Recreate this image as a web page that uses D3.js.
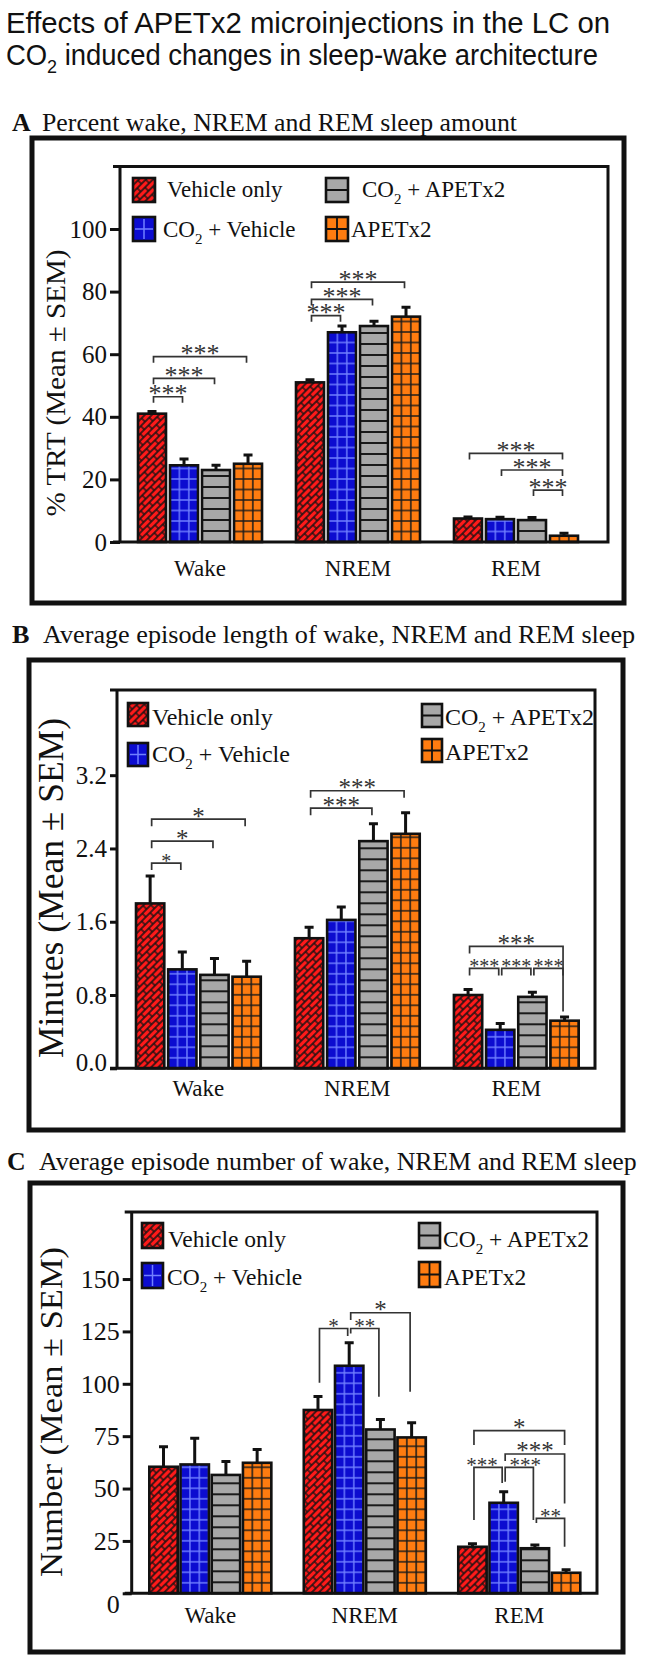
<!DOCTYPE html>
<html><head><meta charset="utf-8">
<script src="https://cdn.jsdelivr.net/npm/d3@7"></script>
<style>body{margin:0;background:#fff}svg{display:block}</style>
</head><body>
<svg id="c" width="645" height="1658"></svg>
<script>
// ---------------- DATA ----------------
const categories = ["Wake", "NREM", "REM"];
const seriesNames = ["Vehicle only", "CO\u2082 + Vehicle", "CO\u2082 + APETx2", "APETx2"];

// Panel A: % TRT
const pctMean = [[41, 24.5, 23, 25], [51, 67, 69, 72], [7.5, 7.3, 7, 2]];
const pctSem  = [[0.7, 2, 1.5, 2.8], [0.8, 2, 1.5, 3], [0.5, 0.6, 0.8, 0.8]];
const pctTicks = [0, 20, 40, 60, 80, 100];

// Panel B: episode length (minutes)
const lenMean = [[1.8, 1.08, 1.02, 1.0], [1.42, 1.62, 2.48, 2.56], [0.8, 0.42, 0.78, 0.52]];
const lenSem  = [[0.3, 0.19, 0.18, 0.17], [0.12, 0.14, 0.19, 0.23], [0.06, 0.07, 0.05, 0.04]];
const lenTicks = [0, 0.8, 1.6, 2.4, 3.2];

// Panel C: episode number
const numMean = [[60.4, 61.5, 56.5, 62.3], [87.5, 108.6, 78.2, 74.4], [22.2, 43.2, 21.5, 9.8]];
const numSem  = [[9.5, 12.5, 6.4, 6.3], [6.4, 11, 4.8, 7], [1.5, 5.3, 1.5, 1.5]];
const numTicks = [0, 25, 50, 75, 100, 125, 150];

// significance brackets: g=category, a/b=series, y=level, la/lb=leg end values, dx=label shift
const bracketsA = [
  {g:0,a:0,b:1,y:46.4,t:"***"},{g:0,a:0,b:2,y:52.3,t:"***"},{g:0,a:0,b:3,y:59.2,t:"***"},
  {g:1,a:0,b:1,y:72.3,t:"***"},{g:1,a:0,b:2,y:77.5,t:"***"},{g:1,a:0,b:3,y:83.0,t:"***"},
  {g:2,a:0,b:3,y:28.3,t:"***"},{g:2,a:1,b:3,y:23.0,t:"***"},{g:2,a:2,b:3,y:16.6,t:"***"}
];
const bracketsB = [
  {g:0,a:0,b:1,y:2.24,t:"*"},{g:0,a:0,b:2,y:2.48,t:"*"},{g:0,a:0,b:3,y:2.72,t:"*"},
  {g:1,a:0,b:2,y:2.84,t:"***"},{g:1,a:0,b:3,y:3.03,t:"***"},
  {g:2,a:0,b:3,y:1.33,lb:0.62,t:"***"},
  {g:2,a:0,b:1,y:1.09,t:"***"},{g:2,a:1,b:2,y:1.09,t:"***"},{g:2,a:2,b:3,y:1.09,t:"***"}
];
const bracketsC = [
  {g:1,a:0,b:1,y:126.4,la:100.5,lb:122.8,t:"*"},
  {g:1,a:1,b:2,y:126.4,la:124,lb:93.8,t:"**"},
  {g:1,a:1,b:3,y:133.9,la:130.4,lb:96.2,t:"*"},
  {g:2,a:0,b:3,y:77.6,la:70.8,lb:70.8,t:"*"},
  {g:2,a:1,b:3,y:66.5,la:63.1,lb:42.9,t:"***"},
  {g:2,a:0,b:1,y:60.1,la:35,lb:52.6,t:"***",dx:-6},
  {g:2,a:1,b:2,y:60.1,la:53.2,lb:35,t:"***",dx:6},
  {g:2,a:2,b:3,y:35.8,la:33.5,lb:22.2,t:"**"}
];

// ---------------- STYLE ----------------
const SERIF = "'Liberation Serif','Times New Roman',serif";
const SANS = "'Liberation Sans Narrow','Liberation Sans',Arial,sans-serif";
const svg = d3.select("#c");
const defs = svg.append("defs");

function pattern(id, w, h, fill, d, stroke, sw, transform) {
  const p = defs.append("pattern").attr("id", id).attr("patternUnits", "userSpaceOnUse")
    .attr("width", w).attr("height", h);
  if (transform) p.attr("patternTransform", transform);
  p.append("rect").attr("width", w).attr("height", h).attr("fill", fill);
  p.append("path").attr("d", d).attr("stroke", stroke).attr("stroke-width", sw).attr("fill", "none");
}
pattern("pRed", 12, 10, "#ff1a1a", "M0,0H12M0,5H12M0,10H12M0,0V5M12,0V5M6,5V10", "#111", 1.3, "rotate(-45)");
pattern("pBlue", 9.4, 10.5, "#0c0cd0", "M0,0V10.5M9.4,0V10.5M0,0H9.4M0,10.5H9.4", "#7080ff", 1.4);
pattern("pGray", 20, 11, "#a8a8a8", "M0,0H20M0,11H20", "#1a1a1a", 2);
pattern("pOrange", 9.4, 10.5, "#ff7c10", "M0,0V10.5M9.4,0V10.5M0,0H9.4M0,10.5H9.4", "#1a1a1a", 1.5);
const patIds = ["pRed", "pBlue", "pGray", "pOrange"];
const swatchFill = ["url(#pRed)", "#0c0cd0", "#a8a8a8", "#ff7c10"];

// subscript-aware text writer
function writeLabel(sel, str, subSize, subDy) {
  const parts = str.split("\u2082");
  parts.forEach((p, i) => {
    if (i > 0) {
      sel.append("tspan").attr("font-size", subSize).attr("dy", subDy).text("2");
      sel.append("tspan").attr("dy", -subDy).text(p);
    } else sel.append("tspan").text(p);
  });
}

// ---------------- TITLE ----------------
const title = svg.append("g").attr("font-family", SANS).attr("fill", "#111");
title.append("text").attr("x", 6).attr("y", 33).attr("font-size", 30)
  .attr("textLength", 604).attr("lengthAdjust", "spacingAndGlyphs")
  .text("Effects of APETx2 microinjections in the LC on");
{
  const t = title.append("text").attr("x", 6).attr("y", 65).attr("font-size", 29);
  writeLabel(t, "CO\u2082 induced changes in sleep-wake architecture", 19, 8);
  const w = t.node().getComputedTextLength();
  if (w > 592) t.attr("textLength", 592).attr("lengthAdjust", "spacingAndGlyphs");
}

// ---------------- PANELS ----------------
function drawPanel(cfg) {
  const g = svg.append("g");
  const y = d3.scaleLinear().domain([0, cfg.yMax]).range([cfg.y0, cfg.yTop]);
  const x0 = d3.scaleBand().domain(categories).range(cfg.xRange).paddingInner(cfg.padGroup);
  const x1 = d3.scaleBand().domain(d3.range(seriesNames.length)).range([0, x0.bandwidth()]).paddingInner(cfg.padBar);
  const bw = x1.bandwidth();
  const cx = (ci, si) => x0(categories[ci]) + x1(si) + bw / 2;

  // header
  const h = g.append("text").attr("x", cfg.headX).attr("y", cfg.headY)
    .attr("font-family", SERIF).attr("font-size", cfg.headFont).attr("fill", "#111");
  h.append("tspan").attr("font-weight", "bold").text(cfg.letter);
  h.append("tspan").attr("x", cfg.headTextX).text(cfg.heading);

  // outer box
  g.append("rect").attr("x", cfg.box[0]).attr("y", cfg.box[1])
    .attr("width", cfg.box[2] - cfg.box[0]).attr("height", cfg.box[3] - cfg.box[1])
    .attr("fill", "none").attr("stroke", "#111").attr("stroke-width", 5);

  // bars
  const rows = categories.flatMap((c, ci) => seriesNames.map((s, si) =>
    ({ci, si, v: cfg.mean[ci][si], e: cfg.sem[ci][si]})));
  const bars = g.append("g").selectAll("g").data(rows).join("g")
    .attr("transform", d => `translate(${x0(categories[d.ci]) + x1(d.si)},${cfg.y0})`);
  bars.append("rect")
    .attr("x", 0).attr("y", d => y(d.v) - cfg.y0)
    .attr("width", bw).attr("height", d => cfg.y0 - y(d.v))
    .attr("fill", d => `url(#${patIds[d.si]})`)
    .attr("stroke", "#111").attr("stroke-width", 2.6);

  // error bars
  const eb = g.append("g").attr("stroke", "#111").attr("stroke-width", 3);
  eb.selectAll("path").data(rows).join("path")
    .attr("fill", "none")
    .attr("d", d => {
      const x = cx(d.ci, d.si), yt = y(d.v + d.e);
      return `M${x},${y(d.v)}V${yt}M${x - 4.5},${yt}H${x + 4.5}`;
    });

  // frame + axis
  g.append("path").attr("fill", "none").attr("stroke", "#111").attr("stroke-width", 3)
    .attr("d", `M${cfg.xAxis - 7},${cfg.yTop}H${cfg.xRight}V${cfg.y0}H${cfg.xAxis - 7}M${cfg.xAxis},${cfg.yTop}V${cfg.y0}`);
  const ax = g.append("g").attr("transform", `translate(${cfg.xAxis},0)`)
    .call(d3.axisLeft(y).tickValues(cfg.ticks).tickSize(cfg.tickLen).tickPadding(3).tickFormat(cfg.fmt));
  ax.select(".domain").remove();
  ax.selectAll(".tick line").attr("stroke", "#111").attr("stroke-width", 3);
  ax.selectAll(".tick text").attr("font-family", SERIF).attr("font-size", cfg.tickFont).attr("fill", "#111");
  ax.selectAll(".tick").filter(d => d === 0).select("text").attr("dy", cfg.zeroDy);

  // y label
  g.append("text").attr("transform", `translate(${cfg.ylabX},${cfg.ylabY}) rotate(-90)`)
    .attr("text-anchor", "middle").attr("font-family", SERIF).attr("font-size", cfg.ylabFont)
    .attr("textLength", cfg.ylabLen).attr("lengthAdjust", "spacingAndGlyphs")
    .attr("fill", "#111").text(cfg.ylab);

  // category labels
  g.append("g").selectAll("text").data(categories).join("text")
    .attr("x", c => x0(c) + x0.bandwidth() / 2).attr("y", cfg.catY)
    .attr("text-anchor", "middle").attr("font-family", SERIF).attr("font-size", 23).attr("fill", "#111")
    .text(c => c);

  // brackets
  const bg = g.append("g");
  cfg.brackets.forEach(b => {
    const xa = cx(b.g, b.a) + 1.5, xb = cx(b.g, b.b) - 1.5;
    const yl = y(b.y);
    const ya = b.la !== undefined ? y(b.la) : yl + cfg.legPx;
    const yb = b.lb !== undefined ? y(b.lb) : yl + cfg.legPx;
    bg.append("path").attr("fill", "none").attr("stroke", "#333").attr("stroke-width", 1.7)
      .attr("d", `M${xa},${ya}V${yl}H${xb}V${yb}`);
    const fs = (xb - xa) < 36 ? cfg.starSmall : cfg.starFont;
    bg.append("text").attr("x", (xa + xb) / 2 + (b.dx || 0)).attr("y", yl + 0.22 * fs)
      .attr("text-anchor", "middle").attr("font-family", SERIF).attr("font-size", fs)
      .attr("fill", "#333").text(b.t);
  });

  // legend
  const lg = g.append("g");
  seriesNames.forEach((s, i) => {
    const L = cfg.legend[i];
    const sx = L[0], sy = L[1], w = cfg.sw[0], hh = cfg.sw[1];
    lg.append("rect").attr("x", sx).attr("y", sy).attr("width", w).attr("height", hh)
      .attr("fill", swatchFill[i]).attr("stroke", "#111").attr("stroke-width", 2.6);
    if (i === 1) lg.append("path").attr("d", `M${sx + w / 2},${sy + 2}V${sy + hh - 2}M${sx + 2},${sy + hh / 2}H${sx + w - 2}`)
      .attr("stroke", "#7080ff").attr("stroke-width", 1.5);
    if (i === 2) lg.append("path").attr("d", `M${sx},${sy + hh / 2}H${sx + w}`)
      .attr("stroke", "#111").attr("stroke-width", 2);
    if (i === 3) lg.append("path").attr("d", `M${sx + w / 2},${sy}V${sy + hh}M${sx},${sy + hh / 2}H${sx + w}`)
      .attr("stroke", "#111").attr("stroke-width", 1.8);
    const t = lg.append("text").attr("x", L[2]).attr("y", L[3])
      .attr("font-family", SERIF).attr("font-size", cfg.legFont).attr("fill", "#111");
    writeLabel(t, s, 15, 7);
  });
}

drawPanel({
  letter: "A", heading: "Percent wake, NREM and REM sleep amount", headX: 12, headTextX: 42, headY: 131, headFont: 25.8,
  box: [32, 138, 624, 603],
  mean: pctMean, sem: pctSem, ticks: pctTicks, fmt: d3.format("d"),
  yMax: 120, y0: 542, yTop: 542 - 120 * 3.13,
  xRange: [138, 578], padGroup: 0.215, padBar: 0.125,
  xAxis: 120, xRight: 608, tickLen: 10, tickFont: 25, zeroDy: "0.32em",
  ylab: "% TRT (Mean \u00b1 SEM)", ylabX: 65, ylabY: 383, ylabFont: 28, ylabLen: 267,
  catY: 576, brackets: bracketsA, legPx: 6, starFont: 26, starSmall: 26,
  legend: [[133, 178, 167, 197], [133, 217, 163, 237], [326, 178, 362, 197], [326, 217, 351, 237]],
  sw: [22, 24], legFont: 23
});

drawPanel({
  letter: "B", heading: "Average episode length of wake, NREM and REM sleep", headX: 12, headTextX: 43, headY: 643, headFont: 26.2,
  box: [29, 660, 623, 1130],
  mean: lenMean, sem: lenSem, ticks: lenTicks, fmt: d3.format(".1f"),
  yMax: 4.13, y0: 1068.3, yTop: 690,
  xRange: [136, 578.7], padGroup: 0.215, padBar: 0.12,
  xAxis: 117, xRight: 595, tickLen: 7, tickFont: 25, zeroDy: "0.1em",
  ylab: "Minutes (Mean \u00b1 SEM)", ylabX: 63, ylabY: 888, ylabFont: 36, ylabLen: 340,
  catY: 1096, brackets: bracketsB, legPx: 7, starFont: 25, starSmall: 20,
  legend: [[128, 703, 152, 725], [128, 743, 152, 762], [422, 704, 445, 725], [422, 739, 445, 760]],
  sw: [20, 23], legFont: 24
});

drawPanel({
  letter: "C", heading: "Average episode number of wake, NREM and REM sleep", headX: 7, headTextX: 39, headY: 1170, headFont: 25.8,
  box: [30, 1183, 623, 1652],
  mean: numMean, sem: numSem, ticks: numTicks, fmt: d3.format("d"),
  yMax: 182, y0: 1593.3, yTop: 1212,
  xRange: [149.3, 580.3], padGroup: 0.21, padBar: 0.09,
  xAxis: 131.7, xRight: 597, tickLen: 9, tickFont: 26, zeroDy: "0.75em",
  ylab: "Number (Mean \u00b1 SEM)", ylabX: 62, ylabY: 1412, ylabFont: 32, ylabLen: 330,
  catY: 1623, brackets: bracketsC, legPx: 7, starFont: 25, starSmall: 21,
  legend: [[142, 1223, 168, 1247], [142, 1263, 167, 1285], [419, 1223, 443, 1247], [419, 1262, 444, 1285]],
  sw: [21, 25], legFont: 23.5
});
</script>
</body></html>
